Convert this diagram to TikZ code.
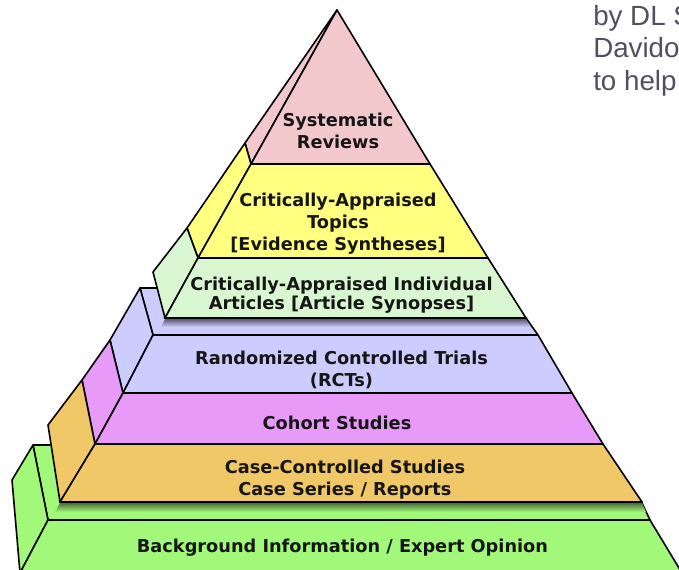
\documentclass[tikz,border=0pt]{standalone}
\usepackage{fontspec}
\newfontfamily\labfont{DejaVu Sans}
\newfontfamily\notefont{Liberation Sans}
\definecolor{cpink}{RGB}{242,200,204}
\definecolor{cyellow}{RGB}{255,255,128}
\definecolor{clgreen}{RGB}{216,246,208}
\definecolor{clav}{RGB}{204,204,255}
\definecolor{cviolet}{RGB}{232,154,248}
\definecolor{corange}{RGB}{240,200,104}
\definecolor{cgreen}{RGB}{162,248,120}
\definecolor{cnote}{RGB}{80,80,96}
\definecolor{ctext}{RGB}{22,22,22}
\tikzset{
  face/.style={draw=black, line width=1.2pt, line join=round},
  groupbase/.style={draw=black, line width=2.2pt, line cap=round},
  lab/.style={font=\labfont\bfseries\fontsize{13.3}{16.5}\selectfont, text=ctext, align=center, inner sep=0pt},
  labtight/.style={font=\labfont\bfseries\fontsize{13.3}{13.8}\selectfont, text=ctext, align=center, inner sep=0pt},
  note/.style={font=\notefont\fontsize{20.8}{25}\selectfont, text=cnote, anchor=base west, inner sep=0pt}
}
\begin{document}
\begin{tikzpicture}[x=0.75pt, y=-0.75pt]
\useasboundingbox (0,0) rectangle (679,569);
\clip (0,0) rectangle (679,569);
\fill[white] (0,0) rectangle (679,569);
% ---------- bottom slab ----------
\path[face, fill=cgreen] (33,445) -- (595,445) -- (642,503) -- (650,520) -- (48,520) -- cycle;
\shade[top color=cgreen!45!black, bottom color=cgreen] (60,503) -- (642,503) -- (646,512) -- (55,512) -- cycle;
\path[face, fill=cgreen] (33,445) -- (48,520) -- (20,573) -- (12,480) -- cycle;
\path[face, fill=cgreen] (48,520) -- (650,520) -- (682,573) -- (20,573) -- cycle;
% ---------- middle frustum ----------
\path[face, fill=clav] (140,288) -- (490,288) -- (526,318) -- (538,335) -- (153,335) -- cycle;
\shade[top color=clav!45!black, bottom color=clav] (165,319) -- (526,319) -- (530,327) -- (161,327) -- cycle;
\path[face, fill=clav] (140,288) -- (153,335) -- (123,393) -- (110,340) -- cycle;
\path[face, fill=cviolet] (110,340) -- (123,393) -- (95,444) -- (82,380) -- cycle;
\path[face, fill=corange] (82,380) -- (95,444) -- (60,502) -- (48,425) -- cycle;
\path[face, fill=clav] (153,335) -- (538,335) -- (572,393) -- (123,393) -- cycle;
\path[face, fill=cviolet] (123,393) -- (572,393) -- (603,444) -- (95,444) -- cycle;
\path[face, fill=corange] (95,444) -- (603,444) -- (642,502) -- (60,502) -- cycle;
\coordinate (mbl) at (60,502);
\coordinate (mbr) at (642,502);
\draw[groupbase] (mbl) -- (mbr);
% ---------- top pyramid ----------
\path[face, fill=cpink] (337,10) -- (251,164) -- (245,143) -- cycle;
\path[face, fill=cyellow] (245,143) -- (251,164) -- (198,258) -- (187,228) -- cycle;
\path[face, fill=clgreen] (187,228) -- (198,258) -- (165,318) -- (153,272) -- cycle;
\path[face, fill=cpink] (337,10) -- (430,164) -- (251,164) -- cycle;
\path[face, fill=cyellow] (251,164) -- (430,164) -- (488,258) -- (198,258) -- cycle;
\path[face, fill=clgreen] (198,258) -- (488,258) -- (526,318) -- (165,318) -- cycle;
\coordinate (tbl) at (165,318);
\coordinate (tbr) at (526,318);
\draw[groupbase] (tbl) -- (tbr);
% ---------- labels ----------
\node[lab] (sr) at (338,131) {Systematic\\Reviews};
\node[lab] (cat) at (338,224) {Critically-Appraised\\Topics\\{[}Evidence Syntheses{]}};
\node[labtight] (cai) at (341.5,295) {Critically-Appraised Individual\\Articles {[}Article Synopses{]}};
\node[lab] (rct) at (341.5,370) {Randomized Controlled Trials\\(RCTs)};
\node[lab] (coh) at (337,423) {Cohort Studies};
\node[lab] (ccs) at (345,479.5) {Case-Controlled Studies\\Case Series / Reports};
\node[lab] (bg) at (342.5,548) {Background Information / Expert Opinion};
% ---------- corner text ----------
\node[note] (n1) at (593,25) {by DL S};
\node[note] (n2) at (593,57.5) {Davidoff};
\node[note] (n3) at (593,90) {to help};
\end{tikzpicture}
\end{document}
